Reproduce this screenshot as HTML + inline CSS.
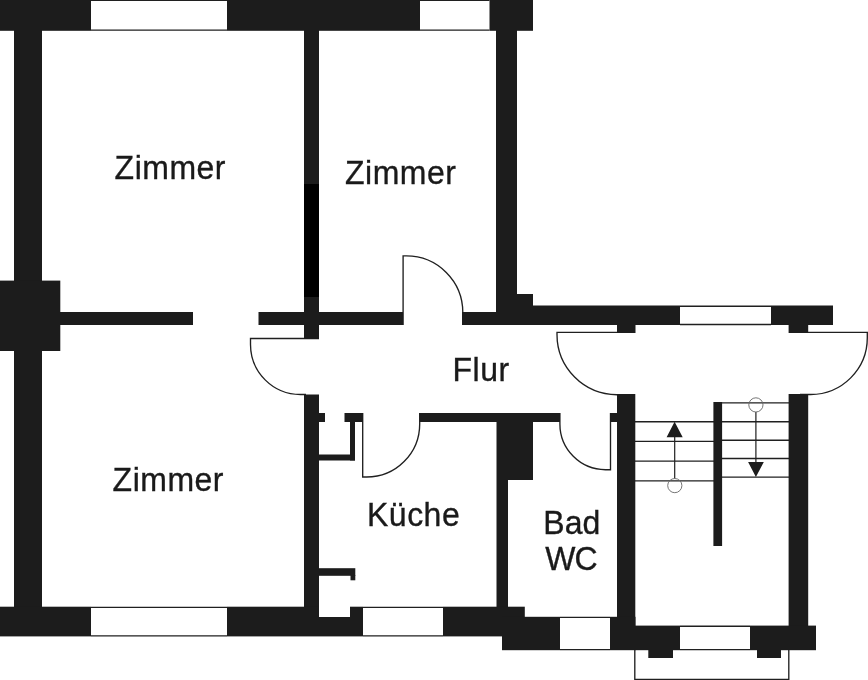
<!DOCTYPE html>
<html lang="de">
<head>
<meta charset="utf-8">
<title>Grundriss</title>
<style>
html,body{margin:0;padding:0;background:#fff;}
body{width:868px;height:680px;overflow:hidden;}
svg{display:block;}
text{font-family:"Liberation Sans",Arial,Helvetica,sans-serif;font-size:32px;letter-spacing:0.5px;fill:#1a1a1a;stroke:#1a1a1a;stroke-width:0.35px;}
.w{fill:#1c1c1c;}
.k{fill:#000;}
.l{fill:none;stroke:#202020;stroke-width:1.35;}
.t{fill:none;stroke:#666;stroke-width:0.9;}
</style>
</head>
<body>
<svg width="868" height="680" viewBox="0 0 868 680">
<rect x="0" y="0" width="868" height="680" fill="#fff"/>
<g class="l">
<!-- windows -->
<path d="M91 0.4H227M91 30.1H227M420 0.4H489.5M420 30.1H489.5"/>
<path d="M680 306.2H771M680 324.5H771"/>
<path d="M91 607.3H227M91 635.8H227M363 607.3H443M363 635.8H443"/>
<path d="M560 617.4H610M560 649.6H610"/>
<path d="M680 626.2H750M680 649.6H750"/>
<!-- balcony -->
<path d="M634.8 649V679.5H788.8V649"/>
<!-- doors -->
<path d="M403.1 325V255.9H406.3A56.5 56.5 0 0 1 462.8 312.4V325"/>
<path d="M319 338.5H250.5V344.5A50 50 0 0 0 300.5 394.5H306"/>
<path d="M362.7 413V477H366.5A53.1 53.1 0 0 0 419.7 423.9V413"/>
<path d="M610.5 413V469.7H605.5A45.6 45.6 0 0 1 559.9 424.1V413"/>
<path d="M635 332.4H557V334.6A60 60.1 0 0 0 617 394.7H620"/>
<path d="M789 332.4H867.3V337.8A56.7 56.7 0 0 1 810.6 394.5H800"/>
<!-- stairs -->
<path d="M635 421.7H714M635 441.3H714M635 461.1H714M635 480.8H714"/>
<path d="M721 402.9H789M721 421.7H789M721 440.2H789M721 458.5H789M721 477.1H789"/>
</g>
<path class="l" style="stroke-width:1.2" d="M674.7 437V478.5M755.9 412V463"/>
<g class="t">
<circle cx="674.8" cy="485.6" r="7.1"/>
<circle cx="755.9" cy="404.9" r="7.1"/>
</g>
<g class="w">
<!-- top wall -->
<rect x="0" y="0" width="91" height="30.8"/>
<rect x="227" y="0" width="193" height="30.8"/>
<rect x="489.5" y="0" width="43.5" height="30.8"/>
<!-- left wall -->
<rect x="14" y="30" width="28" height="577"/>
<rect x="0" y="280.6" width="60.3" height="70.4"/>
<rect x="60" y="312" width="133" height="13"/>
<rect x="258.5" y="312" width="144.5" height="13"/>
<!-- interior wall -->
<rect x="304" y="30" width="15" height="309"/>
<rect x="304" y="394.5" width="15" height="213"/>
<!-- right wall zimmer 2 -->
<rect x="496" y="30" width="21" height="283"/>
<rect x="496" y="294" width="37" height="31"/>
<rect x="462" y="312" width="34" height="13"/>
<rect x="533" y="305.5" width="147" height="19.5"/>
<rect x="771" y="305.5" width="62" height="19.5"/>
<rect x="617" y="325" width="18.5" height="8"/>
<rect x="788.6" y="325" width="19.6" height="8"/>
<!-- kitchen stubs -->
<rect x="319" y="413" width="6" height="9"/>
<rect x="344.5" y="413" width="18.5" height="9"/>
<rect x="350" y="422" width="5" height="38.5"/>
<rect x="319" y="454.5" width="36" height="6"/>
<rect x="319" y="568.2" width="36.3" height="7.6"/>
<rect x="350.5" y="575" width="4.8" height="5.3"/>
<!-- flur bottom wall -->
<rect x="419.5" y="413" width="140.5" height="9"/>
<rect x="496.5" y="413" width="36.5" height="67"/>
<rect x="496.5" y="480" width="11.5" height="127"/>
<rect x="610" y="413" width="7" height="9"/>
<!-- stair walls -->
<rect x="617" y="394" width="18.3" height="232"/>
<rect x="788.6" y="394" width="19.6" height="232"/>
<rect x="713.4" y="402" width="8.7" height="144"/>
<!-- bottom wall -->
<rect x="0" y="606.7" width="91" height="29.7"/>
<rect x="227" y="606.7" width="92" height="29.7"/>
<rect x="319" y="617" width="31" height="19.4"/>
<rect x="350" y="606.7" width="13" height="29.7"/>
<rect x="443" y="606.7" width="81.8" height="29.7"/>
<rect x="502" y="616.8" width="58" height="33.4"/>
<rect x="610" y="616.8" width="25.5" height="33.4"/>
<rect x="635" y="625.6" width="45" height="24.6"/>
<rect x="750" y="625.6" width="66" height="24.6"/>
<rect x="648.3" y="650" width="24.7" height="8"/>
<rect x="757" y="650" width="24" height="8"/>
<path d="M674.6 421.7L682.7 437.3H666.6ZM755.9 477.1L748.1 462H763.8Z"/>
</g>
<rect class="k" x="304" y="184" width="15" height="113"/>
<g style="filter:grayscale(1)">
<text transform="translate(114.6 178.5) scale(1 1.065)">Zimmer</text>
<text transform="translate(345 184) scale(1 1.065)">Zimmer</text>
<text transform="translate(112.6 491) scale(1 1.065)">Zimmer</text>
<text transform="translate(367 525.8) scale(1 1.065)">Küche</text>
<text transform="translate(452.5 381.5) scale(1 1.065)">Flur</text>
<text transform="translate(543.3 534.4) scale(1 1.065)" style="letter-spacing:0">Bad</text>
<text transform="translate(545.2 569.5) scale(1 1.065)" style="letter-spacing:-0.8px">WC</text>
</g>
</svg>
</body>
</html>
